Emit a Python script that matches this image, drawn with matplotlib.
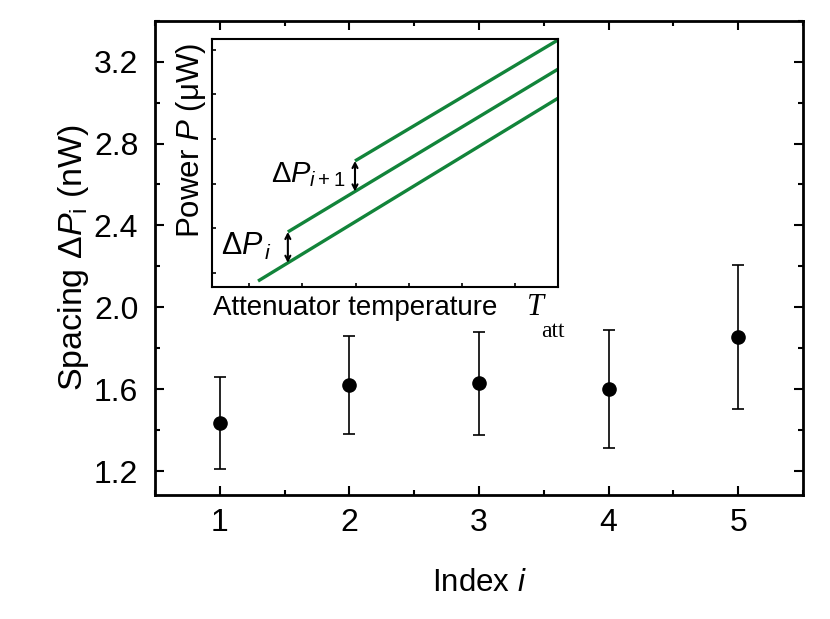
import numpy as np
import matplotlib
matplotlib.use('Agg')
import matplotlib.pyplot as plt
from matplotlib.ticker import MultipleLocator, FormatStrFormatter

plt.rcParams['font.family'] = ['Liberation Sans', 'DejaVu Sans']
plt.rcParams['mathtext.fontset'] = 'custom'
plt.rcParams['mathtext.rm'] = 'Liberation Sans'
plt.rcParams['mathtext.it'] = 'Liberation Sans:italic'

# main data
indices = [1, 2, 3, 4, 5]
spacing = [1.436, 1.62, 1.628, 1.60, 1.854]
spacing_err = [0.225, 0.24, 0.252, 0.287, 0.352]

# inset sketch: three parallel power lines
line_x0 = [1.17, 1.73, 2.99]
line_y0 = [0.82, 1.92, 3.51]
line_x1 = [6.8, 6.8, 6.8]
line_y1 = [4.915, 5.566, 6.22]

green = '#12843a'

fig = plt.figure(figsize=(8.3, 6.19), dpi=100)
ax = fig.add_axes([0.1867, 0.2003, 0.7807, 0.7663])

ax.errorbar(indices, spacing, yerr=spacing_err, fmt='o', color='black',
            markersize=9.5, elinewidth=1.2, capsize=4.5, capthick=1.2)
ax.set_xlim(0.5, 5.5)
ax.set_ylim(1.083, 3.4)
ax.xaxis.set_major_locator(MultipleLocator(1))
ax.xaxis.set_minor_locator(MultipleLocator(0.5))
ax.yaxis.set_major_locator(MultipleLocator(0.4))
ax.yaxis.set_minor_locator(MultipleLocator(0.2))
ax.yaxis.set_major_formatter(FormatStrFormatter('%.1f'))
ax.tick_params(which='both', direction='in', top=True, right=True,
               width=1.5, labelsize=23)
ax.tick_params(which='major', length=6.5)
ax.tick_params(axis='y', which='major', pad=12)
ax.tick_params(axis='x', which='major', pad=9)
ax.tick_params(which='minor', length=3.5)
for s in ax.spines.values():
    s.set_linewidth(2)
ax.set_xlabel('Index $i$', fontsize=22.5, labelpad=22)
ax.set_ylabel(r'Spacing $\Delta P_{\mathrm{i}}$ (nW)', fontsize=24.5, labelpad=2)

# inset
ins = fig.add_axes([0.2554, 0.5363, 0.4169, 0.4006])
for x0, y0, x1, y1 in zip(line_x0, line_y0, line_x1, line_y1):
    ins.plot([x0, x1], [y0, y1], color=green, lw=2.4, solid_capstyle='butt')
ins.set_xlim(0.306, 6.8)
ins.set_ylim(0.686, 6.24)
ins.set_xticks([1, 2, 3, 4, 5, 6])
ins.set_yticks([1, 2, 3, 4, 5, 6])
ins.tick_params(direction='in', length=3, width=1.2,
                labelbottom=False, labelleft=False)
for s in ins.spines.values():
    s.set_linewidth(1.5)

arrow_style = dict(arrowstyle='<->,head_length=0.35,head_width=0.18',
                   color='black', lw=1.5, shrinkA=0, shrinkB=0)
ins.annotate('', xy=(1.73, 1.92), xytext=(1.73, 1.228), arrowprops=arrow_style)
ins.annotate('', xy=(2.99, 3.51), xytext=(2.99, 2.826), arrowprops=arrow_style)
ins.text(0.48, 1.403, r'$\Delta P_{\,i}$', fontsize=22, ha='left', va='baseline')
ins.text(1.408, 3.044, r'$\Delta P_{i+1}$', fontsize=21, ha='left', va='baseline')

ins.text(0.003, -0.113, 'Attenuator temperature', transform=ins.transAxes,
         fontsize=20, ha='left', va='baseline')
ins.text(0.910, -0.113, 'T', transform=ins.transAxes, family='Liberation Serif',
         style='italic', fontsize=22, ha='left', va='baseline')
ins.text(0.952, -0.2016, 'att', transform=ins.transAxes, family='Liberation Serif',
         fontsize=17, ha='left', va='baseline')
ins.set_ylabel(r'Power $P$ ($\mathrm{\mu}$W)', fontsize=22.5, labelpad=3, y=0.59)

fig.savefig('out.png', dpi=100)
